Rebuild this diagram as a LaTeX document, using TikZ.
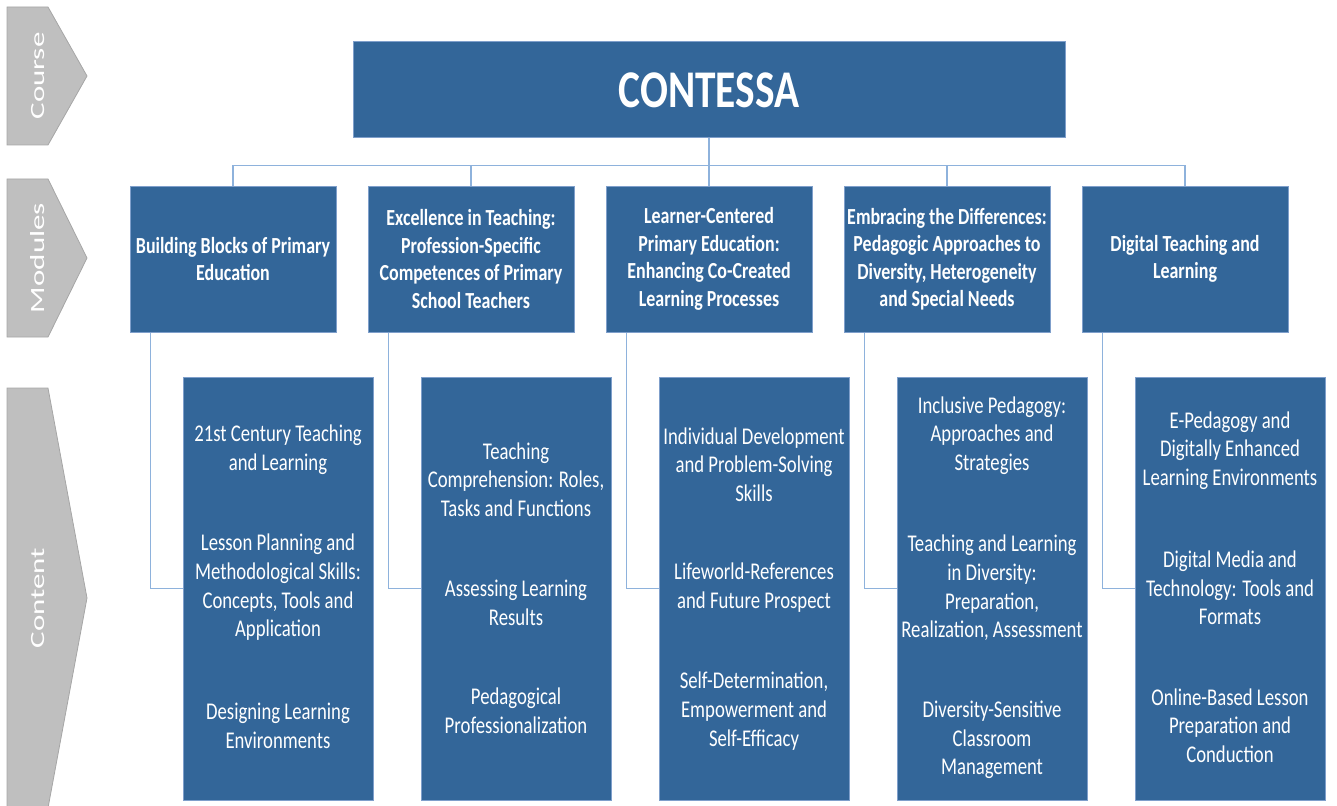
\documentclass[tikz,border=0pt]{standalone}
\usepackage{fontspec}
\setmainfont{Carlito}[FakeStretch=0.78]
\newfontfamily\chevfont{Carlito}
\usepackage{tikz}

\definecolor{boxblue}{HTML}{336699}
\definecolor{boxline}{HTML}{7F9FCB}
\definecolor{linkblue}{HTML}{8EB2DC}
\definecolor{chevgray}{HTML}{BFBFBF}
\definecolor{chevline}{HTML}{A6A6A6}

\begin{document}
\begin{tikzpicture}[x=1pt,y=-1pt,
    chev/.style={fill=chevgray,draw=chevline,line width=0.8pt},
    chevtext/.style={rotate=90,text=white,inner sep=0pt,font=\chevfont\fontsize{31}{31}\selectfont},
    course/.style={shape=rectangle,fill=boxblue,draw=boxline,line width=1pt,minimum width=712pt,minimum height=96pt,text=white,font=\fontsize{53}{60}\selectfont\bfseries},
    module/.style={shape=rectangle,fill=boxblue,draw=boxline,line width=1pt,minimum width=206pt,minimum height=146pt,inner sep=0pt,align=center,text=white,font=\fontsize{23}{27.5}\selectfont\bfseries},
    content/.style={shape=rectangle,fill=boxblue,draw=boxline,line width=1pt,minimum width=190pt,minimum height=423pt},
    item/.style={inner sep=0pt,yshift=-2pt,align=center,text=white,font=\fontsize{24}{28.7}\selectfont},
    link/.style={draw=linkblue,line width=1.8pt}]

    \useasboundingbox (0,0) rectangle (1337,805);

    % levels on the left
    \draw[chev] (7,7) -- (48,7) -- (87,76) -- (48,145) -- (7,145) -- cycle;
    \draw[chev] (7,179) -- (48,179) -- (87,258) -- (48,337) -- (7,337) -- cycle;
    \draw[chev] (7,388) -- (48,388) -- (87,598) -- (48,808) -- (7,808) -- cycle;
    \node[chevtext] (lcourse) at (38,76) {\scalebox{1}[0.65]{Course}};
    \node[chevtext] (lmodules) at (38,258) {\scalebox{1}[0.65]{Modules}};
    \node[chevtext] (lcontent) at (38,598) {\scalebox{1}[0.65]{Content}};

    % course
    \node[course] (contessa) at (709,90) {CONTESSA};

    % modules
    \node[module] (m1) at (233,259) {Building Blocks of Primary\\Education};
    \node[module] (m2) at (471,259) {Excellence in Teaching:\\Profession-Specific\\Competences of Primary\\School Teachers};
    \node[module] (m3) at (709,259) {Learner-Centered\\Primary Education:\\Enhancing Co-Created\\Learning Processes};
    \node[module] (m4) at (947,259) {Embracing the Differences:\\Pedagogic Approaches to\\Diversity, Heterogeneity\\and Special Needs};
    \node[module] (m5) at (1185,259) {Digital Teaching and\\Learning};

    % content
    \node[content] (c1) at (278,588.5) {};
    \node[content] (c2) at (516,588.5) {};
    \node[content] (c3) at (754,588.5) {};
    \node[content] (c4) at (992,588.5) {};
    \node[content] (c5) at (1230,588.5) {};

    \node[item] (c1a) at (278,448) {21st Century Teaching\\and Learning};
    \node[item] (c1b) at (278,585.5) {Lesson Planning and\\Methodological Skills:\\Concepts, Tools and\\Application};
    \node[item] (c1c) at (278,723.5) {Designing Learning\\Environments};

    \node[item] (c2a) at (516,477.5) {Teaching\\Comprehension: Roles,\\Tasks and Functions};
    \node[item] (c2b) at (516,600.5) {Assessing Learning\\Results};
    \node[item] (c2c) at (516,709) {Pedagogical\\Professionalization};

    \node[item] (c3a) at (754,462.5) {Individual Development\\and Problem-Solving\\Skills};
    \node[item] (c3b) at (754,585.5) {Lifeworld-References\\and Future Prospect};
    \node[item] (c3c) at (754,709) {Self-Determination,\\Empowerment and\\Self-Efficacy};

    \node[item] (c4a) at (992,433.5) {Inclusive Pedagogy:\\Approaches and\\Strategies};
    \node[item] (c4b) at (992,586) {Teaching and Learning\\in Diversity:\\Preparation,\\Realization, Assessment};
    \node[item] (c4c) at (992,738) {Diversity-Sensitive\\Classroom\\Management};

    \node[item] (c5a) at (1230,448.5) {E-Pedagogy and\\Digitally Enhanced\\Learning Environments};
    \node[item] (c5b) at (1230,586) {Digital Media and\\Technology: Tools and\\Formats};
    \node[item] (c5c) at (1230,723.5) {Online-Based Lesson\\Preparation and\\Conduction};

    % connectors
    \draw[link] (contessa.south) -- ++(0,27) -| (m1.north);
    \draw[link] (contessa.south) -- ++(0,27) -| (m2.north);
    \draw[link] (contessa.south) -- ++(0,27) -| (m3.north);
    \draw[link] (contessa.south) -- ++(0,27) -| (m4.north);
    \draw[link] (contessa.south) -- ++(0,27) -| (m5.north);

    \draw[link] ([xshift=21pt]m1.south west) |- (c1.west);
    \draw[link] ([xshift=21pt]m2.south west) |- (c2.west);
    \draw[link] ([xshift=21pt]m3.south west) |- (c3.west);
    \draw[link] ([xshift=21pt]m4.south west) |- (c4.west);
    \draw[link] ([xshift=21pt]m5.south west) |- (c5.west);

\end{tikzpicture}
\end{document}
